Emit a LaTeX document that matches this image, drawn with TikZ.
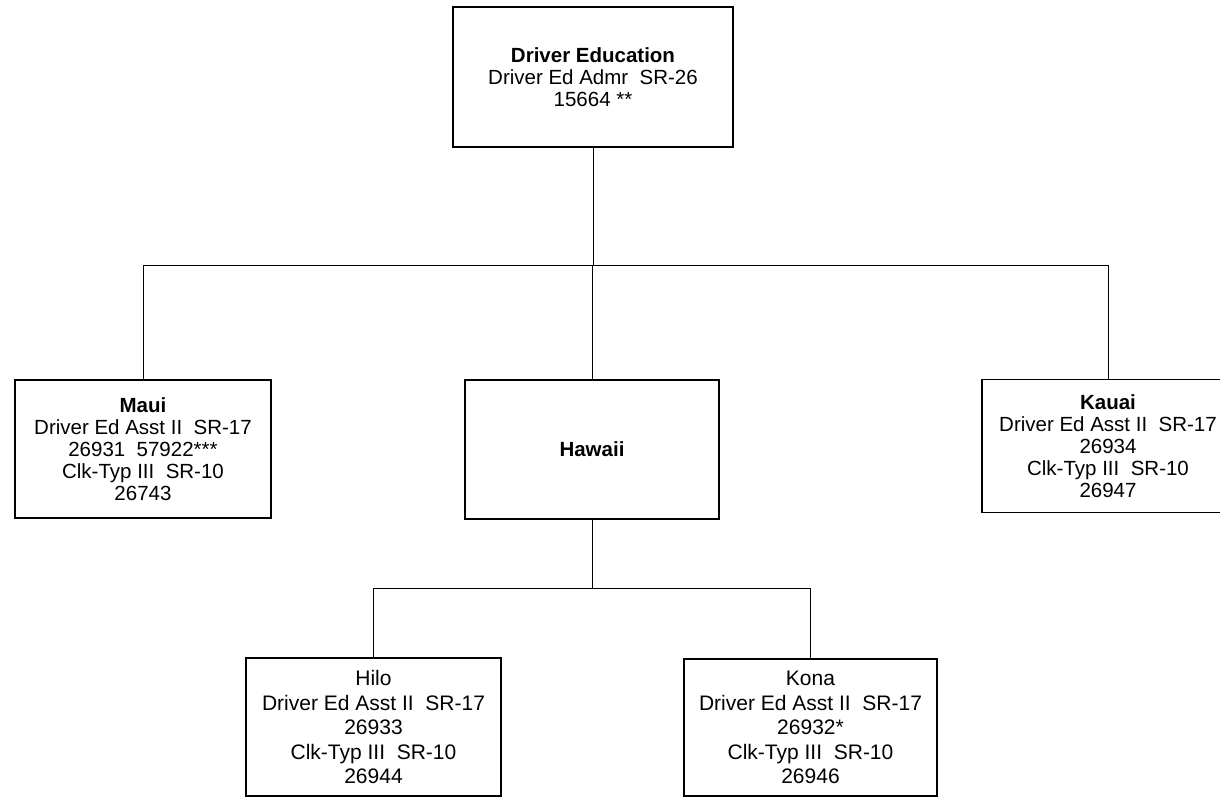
\documentclass[tikz,border=0pt]{standalone}
\usepackage{fontspec}
\setmainfont{Liberation Sans}

\tikzset{
  unit/.style={draw, line width=1.6pt, align=center, inner sep=2pt,
    font=\fontsize{20.5}{22}\selectfont},
  office/.style={unit, font=\fontsize{21}{24.5}\selectfont},
  link/.style={line width=1pt}
}

\begin{document}
\begin{tikzpicture}[x=1pt,y=-1pt]

\useasboundingbox (0,0) rectangle (1220,798);
\clip (0,0) rectangle (1220,798);

\node[unit, minimum width=280pt, minimum height=140pt] (admin) at (593,77)
  {\textbf{Driver Education}\\Driver Ed Admr\ \ SR-26\\15664 **};

\node[unit, minimum width=256pt, minimum height=138pt] (maui) at (143,449)
  {\textbf{Maui}\\Driver Ed Asst II\ \ SR-17\\26931\ \ 57922***\\Clk-Typ III\ \ SR-10\\26743};
\node[unit, minimum width=254pt, minimum height=139pt] (hawaii) at (592,449.5)
  {\textbf{Hawaii}};
\node[unit, minimum width=252pt, minimum height=133pt] (kauai) at (1108,446)
  {\textbf{Kauai}\\Driver Ed Asst II\ \ SR-17\\26934\\Clk-Typ III\ \ SR-10\\26947};

\node[office, minimum width=255pt, minimum height=138pt] (hilo) at (373.5,727)
  {Hilo\\Driver Ed Asst II\ \ SR-17\\26933\\Clk-Typ III\ \ SR-10\\26944};
\node[office, minimum width=253pt, minimum height=137pt] (kona) at (810.5,727.5)
  {Kona\\Driver Ed Asst II\ \ SR-17\\26932*\\Clk-Typ III\ \ SR-10\\26946};

\coordinate (bus1) at (0,265);
\coordinate (bus2) at (0,588);

\draw[link] (admin.south) -- (admin.south |- bus1);
\draw[link] (maui.north) |- (kauai.north |- bus1) -- (kauai.north);
\draw[link] (hawaii.north) -- (hawaii.north |- bus1);

\draw[link] (hawaii.south) -- (hawaii.south |- bus2);
\draw[link] (hilo.north) |- (kona.north |- bus2) -- (kona.north);

\end{tikzpicture}
\end{document}
